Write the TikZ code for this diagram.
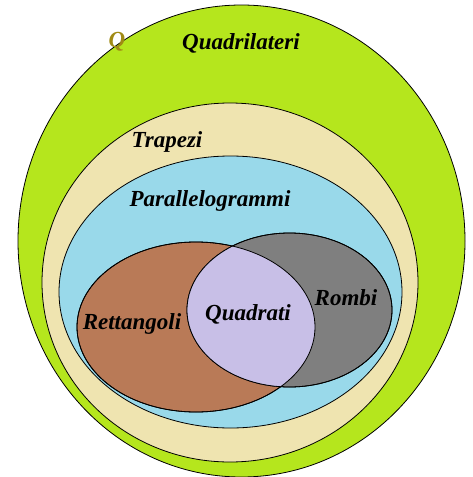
\documentclass[tikz,border=0pt]{standalone}
\usepackage{fontspec}
\setmainfont{Liberation Serif}
\definecolor{quadgreen}{RGB}{181,230,29}
\definecolor{trapbeige}{RGB}{239,228,176}
\definecolor{parblue}{RGB}{153,217,234}
\definecolor{retbrown}{RGB}{185,122,87}
\definecolor{rombgray}{RGB}{127,127,127}
\definecolor{squalilac}{RGB}{200,191,231}
\definecolor{qolive}{RGB}{160,138,20}

\begin{document}
\begin{tikzpicture}[x=1pt,y=-1pt,line width=0.8pt,
  insieme/.style={draw=black},
  etichetta/.style={font=\fontsize{23}{26}\selectfont\bfseries\itshape,inner sep=0pt}]
  \useasboundingbox (0,0) rectangle (472,477);
  % insiemi annidati
  \draw[insieme,fill=quadgreen] (241.5,241) ellipse [x radius=223.5pt,y radius=236pt];
  \draw[insieme,fill=trapbeige] (230,282.5) ellipse [x radius=188pt,y radius=179.5pt];
  \draw[insieme,fill=parblue] (230.5,292) ellipse [x radius=171.5pt,y radius=136pt];
  % rettangoli e rombi
  \draw[insieme,fill=retbrown] (196,327) ellipse [x radius=119pt,y radius=85pt];
  \draw[insieme,fill=rombgray] (289.5,310) ellipse [x radius=102.5pt,y radius=77pt];
  % quadrati = intersezione
  \begin{scope}
    \clip (196,327) ellipse [x radius=119pt,y radius=85pt];
    \fill[squalilac] (289.5,310) ellipse [x radius=102.5pt,y radius=77pt];
  \end{scope}
  \draw[insieme] (196,327) ellipse [x radius=119pt,y radius=85pt];
  \draw[insieme] (289.5,310) ellipse [x radius=102.5pt,y radius=77pt];
  % etichette
  \node[etichetta,text=qolive] (q) at (117,42) {Q};
  \node[etichetta] (quadrilateri) at (241,43) {Quadrilateri};
  \node[etichetta] (trapezi) at (167,142) {Trapezi};
  \node[etichetta] (parallelogrammi) at (210,201) {Parallelogrammi};
  \node[etichetta] (rettangoli) at (132,324) {Rettangoli};
  \node[etichetta] (quadrati) at (248,314) {Quadrati};
  \node[etichetta] (rombi) at (346,298) {Rombi};
\end{tikzpicture}
\end{document}
